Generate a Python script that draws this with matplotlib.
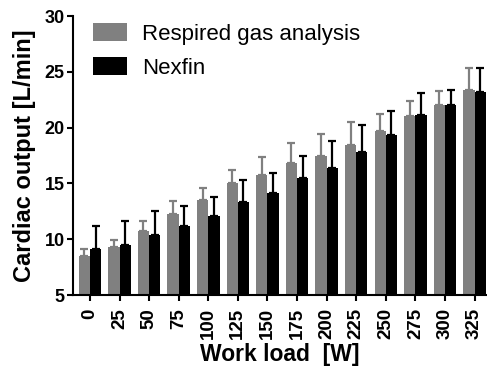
"""Cardiac output per work load: respired gas analysis vs Nexfin
"""
import matplotlib.pyplot as plt
import numpy as np

plt.rcParams['font.family'] = ['Liberation Sans', 'DejaVu Sans']

work_load = ["0", "25", "50", "75", "100", "125", "150", "175",
             "200", "225", "250", "275", "300", "325"]
gas_mean = [8.5, 9.3, 10.7, 12.3, 13.5, 15.0, 15.8, 16.8,
            17.5, 18.4, 19.7, 21.0, 22.0, 23.4]
gas_err = [0.65, 0.65, 0.95, 1.1, 1.05, 1.2, 1.6, 1.8,
           1.9, 2.1, 1.5, 1.4, 1.3, 1.9]
nexfin_mean = [9.1, 9.5, 10.4, 11.2, 12.1, 13.3, 14.1, 15.5,
               16.4, 17.8, 19.3, 21.1, 22.0, 23.2]
nexfin_err = [2.1, 2.15, 2.15, 1.8, 1.7, 2.0, 1.8, 2.0,
              2.4, 2.4, 2.2, 2.0, 1.4, 2.1]

gray = "#808080"
x = np.arange(len(work_load))
w = 0.38

fig = plt.figure(figsize=(4.87, 3.69), dpi=100)
ax = fig.add_axes([0.150, 0.2005, 0.850, 0.756])

ax.bar(x - w / 2, gas_mean, w, color=gray, label="Respired gas analysis", zorder=2)
ax.bar(x + w / 2, nexfin_mean, w, color="black", label="Nexfin", zorder=2)
ax.errorbar(x - w / 2, gas_mean, yerr=[np.zeros(len(x)), gas_err], fmt="none",
            ecolor=gray, elinewidth=1.6, capsize=2.9, capthick=1.6, zorder=1)
ax.errorbar(x + w / 2, nexfin_mean, yerr=[np.zeros(len(x)), nexfin_err], fmt="none",
            ecolor="black", elinewidth=1.6, capsize=2.9, capthick=1.6, zorder=1)

ax.set_xlim(-0.57, 13.42)
ax.set_ylim(5, 30)
ax.set_yticks([5, 10, 15, 20, 25, 30])
ax.set_xticks(x)
ax.set_xticklabels(work_load, rotation=90, fontsize=13.5, fontweight="bold")
for lab in ax.get_yticklabels():
    lab.set_fontsize(13)
    lab.set_fontweight("bold")

ax.spines["top"].set_visible(False)
ax.spines["right"].set_visible(False)
ax.spines["left"].set_linewidth(1.5)
ax.spines["bottom"].set_linewidth(1.5)
ax.tick_params(direction="out", length=4.5, width=1.5, pad=1.5)
ax.tick_params(axis="x", pad=5)

ax.set_xlabel("Work load  [W]", fontsize=16.5, fontweight="bold", labelpad=2.5)
ax.set_ylabel("Cardiac output [L/min]", fontsize=17, fontweight="bold", labelpad=6)

ax.legend(loc="upper left", bbox_to_anchor=(0.048, 0.974), frameon=False,
          fontsize=16, handlelength=1.55, handleheight=0.86, handletextpad=0.68,
          labelspacing=0.55, borderpad=0, borderaxespad=0)

plt.savefig("out.png", dpi=100)
